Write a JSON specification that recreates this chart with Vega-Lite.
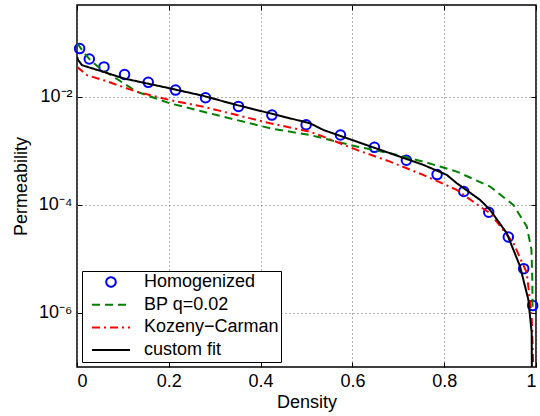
{
 "$schema": "https://vega.github.io/schema/vega-lite/v6.json",
 "width": 459, "height": 362,
 "autosize": {"type": "none"},
 "padding": {"left": 77, "top": 5, "right": 4, "bottom": 49},
 "config": {
   "font": "Liberation Sans",
   "view": {"stroke": "black", "strokeWidth": 1.5},
   "axis": {"labelFont": "Liberation Sans", "labelFontSize": 18, "labelColor": "black", "titleFont": "Liberation Sans", "titleFontSize": 18, "titleFontWeight": "normal", "titleColor": "black", "tickColor": "black", "tickSize": -5, "tickWidth": 1, "domain": false, "gridColor": "#666666", "gridDash": [1,3], "gridWidth": 1, "gridOpacity": 1, "labelPadding": 10}
 },
 "data": {"values": [
  {"series":"Homogenized","d":0.0057,"k":0.078},
  {"series":"Homogenized","d":0.0268,"k":0.0502},
  {"series":"Homogenized","d":0.0588,"k":0.0358},
  {"series":"Homogenized","d":0.1036,"k":0.0259},
  {"series":"Homogenized","d":0.1552,"k":0.0185},
  {"series":"Homogenized","d":0.2147,"k":0.0133},
  {"series":"Homogenized","d":0.280,"k":0.0096},
  {"series":"Homogenized","d":0.3518,"k":0.00665},
  {"series":"Homogenized","d":0.4246,"k":0.00459},
  {"series":"Homogenized","d":0.4992,"k":0.00304},
  {"series":"Homogenized","d":0.574,"k":0.00196},
  {"series":"Homogenized","d":0.648,"k":0.00116},
  {"series":"Homogenized","d":0.7176,"k":0.00067},
  {"series":"Homogenized","d":0.7845,"k":0.000364},
  {"series":"Homogenized","d":0.8426,"k":0.000177},
  {"series":"Homogenized","d":0.897,"k":0.000073},
  {"series":"Homogenized","d":0.9397,"k":0.0000255},
  {"series":"Homogenized","d":0.9732,"k":0.0000066},
  {"series":"Homogenized","d":0.9928,"k":0.00000137},
  {"series":"BP q=0.02","d":0,"k":0.0966},
  {"series":"BP q=0.02","d":0.0035,"k":0.090},
  {"series":"BP q=0.02","d":0.015,"k":0.066},
  {"series":"BP q=0.02","d":0.029,"k":0.0475},
  {"series":"BP q=0.02","d":0.0507,"k":0.0334},
  {"series":"BP q=0.02","d":0.0797,"k":0.0234},
  {"series":"BP q=0.02","d":0.1306,"k":0.01236},
  {"series":"BP q=0.02","d":0.2031,"k":0.00755},
  {"series":"BP q=0.02","d":0.2756,"k":0.00528},
  {"series":"BP q=0.02","d":0.3484,"k":0.00371},
  {"series":"BP q=0.02","d":0.4209,"k":0.00261},
  {"series":"BP q=0.02","d":0.508,"k":0.00196},
  {"series":"BP q=0.02","d":0.6096,"k":0.0012},
  {"series":"BP q=0.02","d":0.682,"k":0.000903},
  {"series":"BP q=0.02","d":0.7546,"k":0.000632},
  {"series":"BP q=0.02","d":0.8273,"k":0.000413},
  {"series":"BP q=0.02","d":0.8999,"k":0.000219},
  {"series":"BP q=0.02","d":0.9506,"k":0.0001},
  {"series":"BP q=0.02","d":0.9798,"k":0.00004},
  {"series":"BP q=0.02","d":0.990,"k":0.000015},
  {"series":"BP q=0.02","d":0.992,"k":0.000004},
  {"series":"BP q=0.02","d":0.9925,"k":0.0000011},
  {"series":"Kozeny−Carman","d":0,"k":0.0358},
  {"series":"Kozeny−Carman","d":0.0218,"k":0.0251},
  {"series":"Kozeny−Carman","d":0.0579,"k":0.0203},
  {"series":"Kozeny−Carman","d":0.1306,"k":0.01236},
  {"series":"Kozeny−Carman","d":0.2031,"k":0.00869},
  {"series":"Kozeny−Carman","d":0.2756,"k":0.00654},
  {"series":"Kozeny−Carman","d":0.3484,"k":0.00459},
  {"series":"Kozeny−Carman","d":0.4209,"k":0.00323},
  {"series":"Kozeny−Carman","d":0.508,"k":0.00226},
  {"series":"Kozeny−Carman","d":0.5363,"k":0.00183},
  {"series":"Kozeny−Carman","d":0.6096,"k":0.00104},
  {"series":"Kozeny−Carman","d":0.682,"k":0.000632},
  {"series":"Kozeny−Carman","d":0.754,"k":0.000359},
  {"series":"Kozeny−Carman","d":0.8273,"k":0.00019},
  {"series":"Kozeny−Carman","d":0.878,"k":0.000093},
  {"series":"Kozeny−Carman","d":0.8999,"k":0.0000706},
  {"series":"Kozeny−Carman","d":0.9506,"k":0.0000197},
  {"series":"Kozeny−Carman","d":0.9798,"k":0.00000558},
  {"series":"Kozeny−Carman","d":0.9906,"k":0.00000087},
  {"series":"Kozeny−Carman","d":0.9941,"k":0.0000001},
  {"series":"Kozeny−Carman","d":0.995,"k":0.000000001},
  {"series":"custom fit","d":0,"k":0.0547},
  {"series":"custom fit","d":0.0028,"k":0.0475},
  {"series":"custom fit","d":0.0109,"k":0.0385},
  {"series":"custom fit","d":0.0579,"k":0.0289},
  {"series":"custom fit","d":0.1015,"k":0.0219},
  {"series":"custom fit","d":0.2031,"k":0.0143},
  {"series":"custom fit","d":0.2756,"k":0.0104},
  {"series":"custom fit","d":0.3484,"k":0.00703},
  {"series":"custom fit","d":0.4209,"k":0.00494},
  {"series":"custom fit","d":0.508,"k":0.00323},
  {"series":"custom fit","d":0.5369,"k":0.00243},
  {"series":"custom fit","d":0.6096,"k":0.00148},
  {"series":"custom fit","d":0.682,"k":0.000903},
  {"series":"custom fit","d":0.7546,"k":0.00055},
  {"series":"custom fit","d":0.8056,"k":0.000359},
  {"series":"custom fit","d":0.8273,"k":0.000252},
  {"series":"custom fit","d":0.878,"k":0.000124},
  {"series":"custom fit","d":0.8999,"k":0.000081},
  {"series":"custom fit","d":0.9362,"k":0.00003},
  {"series":"custom fit","d":0.9652,"k":0.0000073},
  {"series":"custom fit","d":0.9833,"k":0.00000177},
  {"series":"custom fit","d":0.9906,"k":0.00000043},
  {"series":"custom fit","d":0.9910,"k":0.0000001},
  {"series":"custom fit","d":0.9912,"k":0.000000001}
 ]},
 "layer": [
  {
   "transform": [{"filter": "datum.series === 'Homogenized'"}],
   "mark": {"type": "point", "filled": false, "size": 1444, "strokeWidth": 2, "opacity": 1},
   "encoding": {
    "x": {"field": "d", "type": "quantitative", "scale": {"domain": [0, 1], "nice": false, "zero": false},
          "axis": {"orient": "bottom", "values": [0,0.2,0.4,0.6,0.8,1], "format": "~g", "title": "Density", "grid": true, "titlePadding": 3}},
    "y": {"field": "k", "type": "quantitative", "scale": {"type": "log", "domain": [0.0000001, 0.5], "nice": false},
          "axis": {"orient": "left", "values": [0.000001, 0.0001, 0.01], "labelExpr": "datum.value < 0.000002 ? '10⁻⁶' : datum.value < 0.0002 ? '10⁻⁴' : '10⁻²'", "title": "Permeability", "grid": true, "titlePadding": 8}},
    "shape": {"field": "series", "type": "nominal",
      "scale": {"domain": ["Homogenized", "BP q=0.02", "Kozeny−Carman", "custom fit"], "range": ["M0.25,0A0.25,0.25 0 1,1 -0.25,0A0.25,0.25 0 1,1 0.25,0Z", "stroke", "stroke", "stroke"]},
      "legend": {"title": null}},
    "color": {"field": "series", "type": "nominal",
      "scale": {"domain": ["Homogenized", "BP q=0.02", "Kozeny−Carman", "custom fit"], "range": ["#0000ff", "#008000", "#ff0000", "#000000"]},
      "legend": {
        "title": null, "orient": "bottom-left", "offset": 5,
        "fillColor": "white", "strokeColor": "black", "padding": 2,
        "symbolSize": 1444, "symbolStrokeWidth": 2, "clipHeight": 18, "symbolOffset": 7,
        "labelFont": "Liberation Sans", "labelFontSize": 18, "labelColor": "black", "labelOffset": 13, "rowPadding": 4.7, "labelLimit": 300
      }}
   }
  },
  {
   "transform": [{"filter": "datum.series !== 'Homogenized'"}],
   "mark": {"type": "line", "strokeWidth": 2, "clip": true},
   "encoding": {
    "x": {"field": "d", "type": "quantitative", "axis": null},
    "y": {"field": "k", "type": "quantitative", "axis": null},
    "color": {"field": "series", "type": "nominal"},
    "strokeDash": {"field": "series", "type": "nominal",
      "scale": {"domain": ["Homogenized", "BP q=0.02", "Kozeny−Carman", "custom fit"], "range": [[1,0], [8,5], [8,4,2,4], [1,0]]},
      "legend": {"title": null}}
   }
  },
  {
   "transform": [{"filter": "datum.series === 'Homogenized'"}],
   "mark": {"type": "point", "opacity": 0},
   "encoding": {
    "x": {"field": "d", "type": "quantitative", "axis": {"orient": "top", "values": [0,0.2,0.4,0.6,0.8,1], "labels": false, "title": null, "grid": false}},
    "y": {"field": "k", "type": "quantitative", "axis": {"orient": "right", "values": [0.000001, 0.0001, 0.01], "labels": false, "title": null, "grid": false}}
   }
  }
 ],
 "resolve": {"axis": {"x": "independent", "y": "independent"}}
}
